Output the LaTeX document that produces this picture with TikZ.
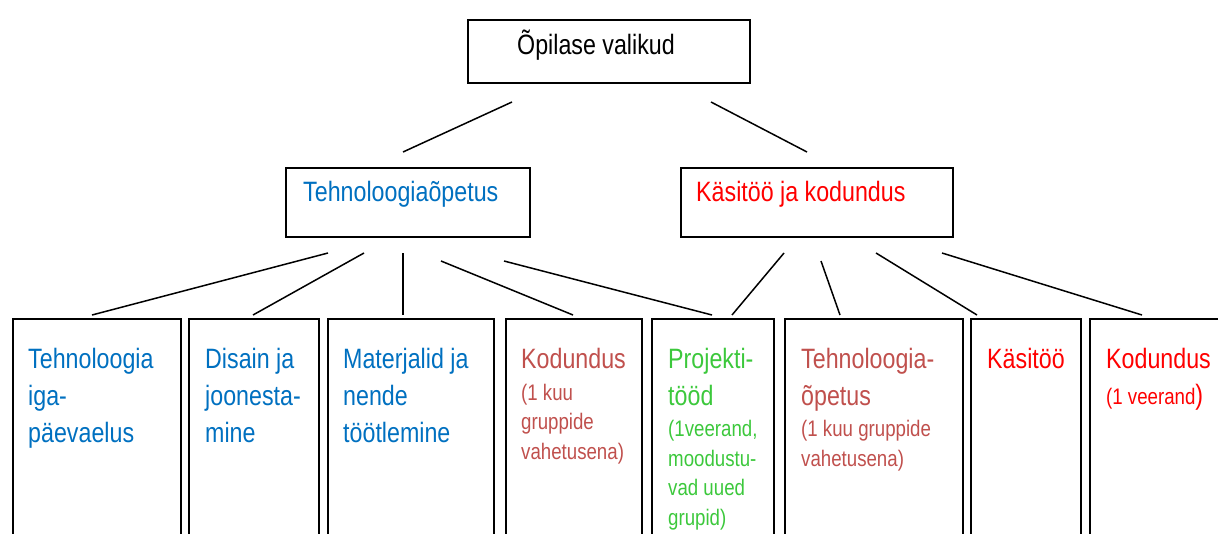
\documentclass[tikz,border=0pt]{standalone}
\usepackage{fontspec}
\setmainfont{Liberation Sans}[FakeStretch=0.83]
\definecolor{techblue}{HTML}{0070C0}
\definecolor{dullred}{HTML}{C0504D}
\definecolor{brightred}{HTML}{FF0000}
\definecolor{projgreen}{HTML}{3CC83C}

\begin{document}
\begin{tikzpicture}[x=1pt, y=-1pt,
  box/.style={draw, line width=1.6pt, anchor=north west, inner sep=0pt},
  link/.style={line width=1.5pt},
  big/.style={anchor=base west, align=left, inner sep=0pt, font=\fontsize{28}{37}\selectfont},
  small/.style={anchor=base west, align=left, inner sep=0pt, font=\fontsize{22.5}{29.5}\selectfont}]
  \useasboundingbox (0,0) rectangle (1218,533);
  \clip (0,0) rectangle (1218,533);

  % top level
  \node[box, minimum width=282, minimum height=63] (top) at (467,19) {};
  \node[big] (toptext) at (517,54) {Õpilase valikud};

  % second level
  \node[box, minimum width=244, minimum height=69] (tech) at (285,167) {};
  \node[big, techblue] (techtext) at (303,201) {Tehnoloogiaõpetus};
  \node[box, minimum width=272, minimum height=69] (kasi) at (680,167) {};
  \node[big, brightred] (kasitext) at (696,201) {Käsitöö ja kodundus};

  % third level (base of a multi-line text = its last line)
  \node[box, minimum width=168, minimum height=260] (igap) at (12,318) {};
  \node[big, techblue] at (28,442) {Tehnoloogia\\iga-\\päevaelus};
  \node[box, minimum width=130, minimum height=260] (disain) at (188,318) {};
  \node[big, techblue] at (205,442) {Disain ja\\joonesta-\\mine};
  \node[box, minimum width=166, minimum height=260] (mater) at (327,318) {};
  \node[big, techblue] at (343,442) {Materjalid ja\\nende\\töötlemine};
  \node[box, minimum width=136, minimum height=260] (kodu1) at (505,318) {};
  \node[big, dullred] at (521,368) {Kodundus};
  \node[small, dullred] at (521,459) {(1 kuu\\gruppide\\vahetusena)};
  \node[box, minimum width=122, minimum height=260] (proj) at (651,318) {};
  \node[big, projgreen] at (668,405) {Projekti-\\tööd};
  \node[small, projgreen] at (668,525) {(1veerand,\\moodustu-\\vad uued\\grupid)};
  \node[box, minimum width=178, minimum height=260] (tech2) at (784,318) {};
  \node[big, dullred] at (801,405) {Tehnoloogia-\\õpetus};
  \node[small, dullred] at (801,466) {(1 kuu gruppide\\vahetusena)};
  \node[box, minimum width=110, minimum height=260] (kasi2) at (970,318) {};
  \node[big, brightred] at (987,368) {Käsitöö};
  \node[box, minimum width=150, minimum height=260] (kodu2) at (1089,318) {};
  \node[big, brightred] at (1106,368) {Kodundus};
  \node[small, brightred] at (1106,404) {(1 veerand{\fontsize{28}{37}\selectfont)}};

  % line ends (the lines do not touch the boxes)
  \coordinate (a1) at (512,102);  \coordinate (a2) at (403,152);
  \coordinate (a3) at (711,102);  \coordinate (a4) at (807,152);
  \coordinate (t1) at (328,253);  \coordinate (u1) at (92,315);
  \coordinate (t2) at (364,253);  \coordinate (u2) at (253,315);
  \coordinate (t3) at (403,253);  \coordinate (u3) at (403,315);
  \coordinate (t4) at (441,261);  \coordinate (u4) at (573,315);
  \coordinate (t5) at (504,261);  \coordinate (u5) at (712,315);
  \coordinate (k1) at (784,253);  \coordinate (v1) at (732,315);
  \coordinate (k2) at (821,261);  \coordinate (v2) at (840,315);
  \coordinate (k3) at (876,253);  \coordinate (v3) at (977,315);
  \coordinate (k4) at (942,253);  \coordinate (v4) at (1142,315);

  \draw[link] (a1) -- (a2);
  \draw[link] (a3) -- (a4);
  \draw[link] (t1) -- (u1);
  \draw[link] (t2) -- (u2);
  \draw[link] (t3) -- (u3);
  \draw[link] (t4) -- (u4);
  \draw[link] (t5) -- (u5);
  \draw[link] (k1) -- (v1);
  \draw[link] (k2) -- (v2);
  \draw[link] (k3) -- (v3);
  \draw[link] (k4) -- (v4);
\end{tikzpicture}
\end{document}
